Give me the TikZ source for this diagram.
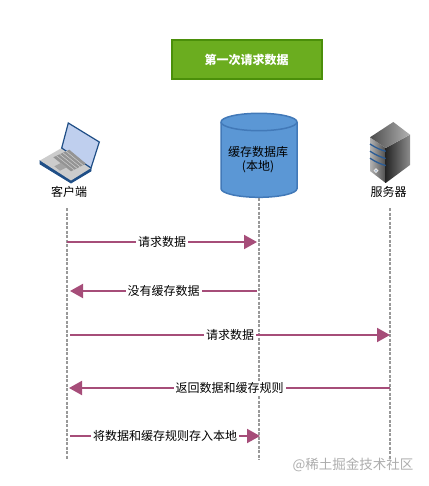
\documentclass[tikz,border=0pt]{standalone}
\usepackage{fontspec}
\setmainfont{Noto Sans CJK SC}
\usetikzlibrary{arrows.meta}
\definecolor{msgcolor}{HTML}{A64D79}
\definecolor{titlefill}{HTML}{6BAD1F}
\definecolor{titleline}{HTML}{4B8F0A}
\definecolor{dbfill}{HTML}{5B97D5}
\definecolor{dbline}{HTML}{4279B8}
\definecolor{lapblue}{HTML}{1F4E86}
\definecolor{lapscreen}{HTML}{BFCFEE}
\definecolor{srvblue}{HTML}{2A5C96}
\tikzset{
    lifeline/.style={draw=black!40,line width=2.8pt,dash pattern=on 3pt off 1.5pt},
    msg/.style={draw=msgcolor,line width=2pt,-{Triangle[length=13pt,width=14pt,fill=msgcolor]}},
    msglabel/.style={fill=white,inner xsep=2pt,inner ysep=1pt,font=\fontsize{12}{14}\selectfont},
    iconlabel/.style={inner sep=1pt,font=\fontsize{12}{14}\selectfont}
}
\begin{document}
\begin{tikzpicture}[x=1pt,y=-1pt]
    \useasboundingbox (0,0) rectangle (428,486);

    \node[draw=titleline,fill=titlefill,line width=2pt,minimum width=150pt,minimum height=39pt,text=white,font=\fontsize{12}{14}\selectfont\bfseries] (title) at (246.5,60) {第一次请求数据};

    % laptop
    \filldraw[draw=lapblue,fill=lapblue,line width=.8pt,line join=round] (40,160.5) -- (40,164) -- (71,183) -- (91,171) -- (91,168) -- (71,180) -- cycle;
    \fill[black!20] (40,160.5) -- (61.7,148) -- (91,168) -- (71,180.5) -- cycle;
    \filldraw[draw=lapblue,fill=lapscreen,line width=1.2pt] (61.7,148) -- (68.3,123) -- (99.3,142) -- (91,168) -- cycle;
    \fill[black!42] (53.3,157.3) -- (69.3,149.7) -- (86,163.7) -- (71,171.3) -- cycle;
    \foreach \i in {.2,.4,.6,.8} {
        \draw[black!18,line width=.5pt] ({53.3+\i*16},{157.3-\i*7.6}) -- ({71+\i*15},{171.3-\i*7.6});
    }
    \fill[black!36] (54.3,166.3) -- (61,163) -- (66.7,167.3) -- (60,170.7) -- cycle;
    \node[iconlabel] (client) at (69,192) {客户端};

    % server
    \shade[left color=black!30,right color=black!70] (370,137.3) -- (385.7,148) -- (385.7,183) -- (370,171) -- cycle;
    \shade[left color=black!85,right color=black!45] (385.7,148) -- (410,134.7) -- (410,165) -- (385.7,183) -- cycle;
    \shade[left color=black!70,right color=black!30] (370,137.3) -- (393.3,122) -- (410,134.7) -- (385.7,148) -- cycle;
    \foreach \i in {0,7.2,14.2} {
        \draw[srvblue,line width=1.3pt] (370,{144+\i}) .. controls (376,{148+\i}) and (381,{150+\i}) .. (385.7,{151.3+\i});
    }
    \filldraw[draw=black!10,fill=srvblue!50!white,line width=1pt] (376,170.7) circle[radius=1.8pt];
    \node[iconlabel] (server) at (388.5,192) {服务器};

    % cache
    \filldraw[draw=dbline,fill=dbfill,line width=1.5pt] (221,122) arc[start angle=180,end angle=0,x radius=38,y radius=-8.7] -- (297,188.6) arc[start angle=0,end angle=-180,x radius=38,y radius=-8.7] -- cycle;
    \draw[dbline,line width=1.5pt] (221,122) arc[start angle=180,end angle=360,x radius=38,y radius=-8.7];
    \node[align=center,inner sep=0pt,font=\fontsize{12}{14.5}\selectfont] (cache) at (258,159.5) {缓存数据库\\(本地)};

    \coordinate (clienttop) at (67,208);
    \coordinate (clientend) at (67,460);
    \coordinate (cachetop) at (259,198);
    \coordinate (cacheend) at (259,460);
    \coordinate (servertop) at (390,208);
    \coordinate (serverend) at (390,460);

    \draw[lifeline] (clienttop) -- (clientend);
    \draw[lifeline] (cachetop) -- (cacheend);
    \draw[lifeline] (servertop) -- (serverend);

    % messages
    \coordinate (a1) at (67,242);
    \coordinate (b1) at (257,242);
    \coordinate (a2) at (257,291);
    \coordinate (b2) at (70,291);
    \coordinate (a3) at (70,335);
    \coordinate (b3) at (390,335);
    \coordinate (a4) at (390,388);
    \coordinate (b4) at (69,388);
    \coordinate (a5) at (70,436);
    \coordinate (b5) at (260,436);

    \draw[msg] (a1) -- (b1) node[midway,msglabel] (m1) {请求数据};
    \draw[msg] (a2) -- (b2) node[midway,msglabel] (m2) {没有缓存数据};
    \draw[msg] (a3) -- (b3) node[midway,msglabel] (m3) {请求数据};
    \draw[msg] (a4) -- (b4) node[midway,msglabel] (m4) {返回数据和缓存规则};
    \draw[msg] (a5) -- (b5) node[midway,msglabel] (m5) {将数据和缓存规则存入本地};

    \node[text=black!32,inner sep=0pt,font=\fontsize{13.5}{16}\selectfont] (mark) at (353,464.5) {@稀土掘金技术社区};
\end{tikzpicture}
\end{document}
